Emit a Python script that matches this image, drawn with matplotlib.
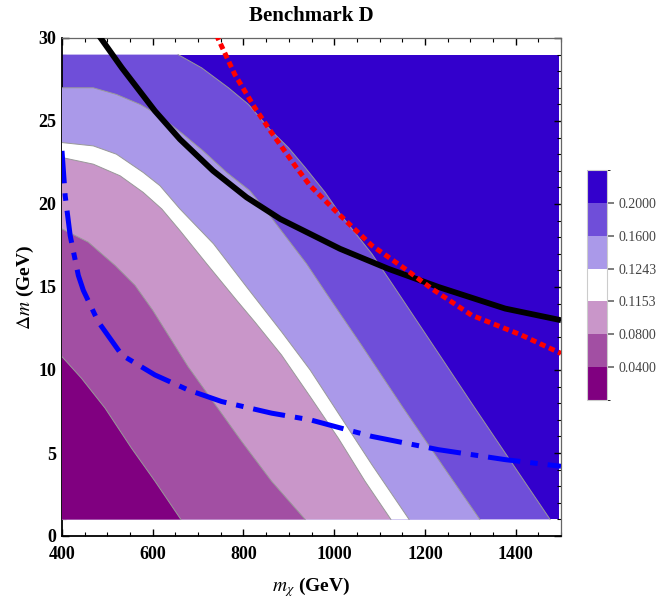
import matplotlib
matplotlib.use("Agg")
import matplotlib.pyplot as plt  # type: ignore
from matplotlib.colors import ListedColormap, BoundaryNorm  # type: ignore
from matplotlib.colorbar import ColorbarBase  # type: ignore
from matplotlib.ticker import MultipleLocator  # type: ignore

plt.rcParams["font.family"] = ["Liberation Serif", "DejaVu Serif"]
plt.rcParams["mathtext.fontset"] = "stix"

# Extent of the scanned region (m_chi in GeV, delta m in GeV)
M_MIN, M_MAX = 400, 1495
DM_MIN, DM_MAX = 1, 29

# Band colours, lowest value first
BAND_COLORS = ["#800080", "#A24FA3", "#C996C9", "#FFFFFF", "#AA99E9", "#6F4ED9", "#3300CC"]
LEVEL_LABELS = ["0.0400", "0.0800", "0.1153", "0.1243", "0.1600", "0.2000"]

# Contour boundaries (start at left/top edge, end at bottom edge)
b004_m = [400, 443, 495, 553, 605, 662]
b004_dm = [10.8, 9.5, 7.7, 5.3, 3.3, 1.0]

b008_m = [400, 458, 517, 561, 600, 678, 796, 862, 936]
b008_dm = [18.5, 17.7, 16.3, 15.1, 13.6, 10.2, 5.7, 3.3, 1.0]

b0115_m = [400, 469, 528, 579, 620, 660, 719, 785, 825, 884, 947, 1009, 1068, 1125]
b0115_dm = [22.8, 22.4, 21.7, 20.7, 19.7, 18.4, 16.4, 14.2, 12.9, 10.9, 8.4, 5.9, 3.3, 1.0]

b0124_m = [400, 469, 520, 579, 616, 660, 734, 807, 884, 947, 1009, 1083, 1165]
b0124_dm = [23.7, 23.5, 23.0, 21.9, 21.1, 19.7, 17.6, 15.0, 12.3, 10.0, 7.4, 4.3, 1.0]

b016_m = [400, 469, 520, 572, 616, 667, 711, 763, 814, 844, 939, 983, 1060, 1150, 1240, 1321]
b016_dm = [27.0, 27.0, 26.6, 26.0, 25.3, 24.2, 23.2, 21.9, 20.8, 19.8, 16.4, 14.6, 11.5, 7.8,
           4.2, 1.0]

b02_m = [656, 708, 767, 811, 858, 899, 936, 980, 1013, 1083, 1130, 1230, 1303, 1377, 1476]
b02_dm = [29.0, 28.2, 27.0, 26.0, 24.5, 23.4, 22.2, 20.7, 19.4, 17.0, 15.1, 11.0, 8.0, 5.0, 1.0]

# Overlaid curves
black_m = [480, 532, 605, 660, 733, 807, 881, 947, 1013, 1119, 1230, 1377, 1500]
black_dm = [30.2, 28.2, 25.6, 23.9, 22.0, 20.4, 19.1, 18.2, 17.3, 16.1, 15.0, 13.7, 13.0]

red_m = [740, 781, 825, 862, 914, 947, 1006, 1083, 1156, 1215, 1303, 1413, 1500]
red_dm = [30.2, 27.8, 25.8, 24.3, 22.3, 21.1, 19.5, 17.5, 16.1, 14.9, 13.3, 12.1, 11.0]

blue_m = [400, 407, 418, 436, 447, 480, 532, 605, 678, 752, 862, 947, 1083, 1230, 1377, 1500]
blue_dm = [23.2, 20.5, 18.1, 15.7, 14.8, 12.9, 10.9, 9.7, 8.8, 8.1, 7.4, 7.0, 6.0, 5.2, 4.6, 4.2]


def region(ms, dms):
    """Polygon covering everything below/left of a boundary curve."""
    xs = [M_MIN]
    ys = [DM_MIN]
    if ms[0] > M_MIN:
        xs.append(M_MIN)
        ys.append(DM_MAX)
    return xs + list(ms), ys + list(dms)


fig = plt.figure(figsize=(6.57, 5.98), dpi=100)
ax = fig.add_axes([62 / 657, 1 - 536 / 598, 499 / 657, 498 / 598])

# top band: whole scanned rectangle
ax.fill([M_MIN, M_MAX, M_MAX, M_MIN], [DM_MIN, DM_MIN, DM_MAX, DM_MAX],
        color=BAND_COLORS[6], lw=0, zorder=1)

# layered from the highest contour down
bounds = [(b02_m, b02_dm), (b016_m, b016_dm), (b0124_m, b0124_dm),
          (b0115_m, b0115_dm), (b008_m, b008_dm), (b004_m, b004_dm)]
for i, (ms, dms) in enumerate(bounds):
    xs, ys = region(ms, dms)
    ax.fill(xs, ys, color=BAND_COLORS[5 - i], lw=0, zorder=2 + i)
for ms, dms in bounds:
    ax.plot(ms, dms, color="#999999", lw=0.7, zorder=9)

ax.plot(black_m, black_dm, color="black", lw=4.2, zorder=10, solid_capstyle="butt")
ax.plot(red_m, red_dm, color="red", lw=3.6, zorder=11, dashes=(1.2, 0.8),
        dash_capstyle="butt")
ax.plot(blue_m, blue_dm, color="#0000FF", lw=3.6, zorder=12, dashes=(6.5, 2.0, 1.5, 2.0),
        dash_capstyle="butt")

ax.set_xlim(400, 1500)
ax.set_ylim(0, 30)
ax.xaxis.set_major_locator(MultipleLocator(200))
ax.xaxis.set_minor_locator(MultipleLocator(50))
ax.yaxis.set_major_locator(MultipleLocator(5))
ax.yaxis.set_minor_locator(MultipleLocator(1))
ax.tick_params(which="both", direction="in", top=True, right=True)
ax.tick_params(which="major", length=5, width=1.0, labelsize=13)
ax.tick_params(which="minor", length=3, width=0.8)
ax.tick_params(axis="x", pad=7)
ax.tick_params(axis="y", pad=4)
for lbl in ax.get_xticklabels() + ax.get_yticklabels():
    lbl.set_fontweight("bold")
for side in ["left", "bottom"]:
    ax.spines[side].set_linewidth(1.3)
for side in ["top", "right"]:
    ax.spines[side].set_color("#666666")
    ax.spines[side].set_linewidth(0.9)

ax.set_xlabel(r"$m_\chi$ (GeV)", fontsize=14, fontweight="bold", labelpad=9)
ax.set_ylabel(r"$\Delta m$ (GeV)", fontsize=14, fontweight="bold", labelpad=2)
ax.set_title("Benchmark D", fontsize=15, fontweight="bold", pad=12)

# colour legend bar
cax = fig.add_axes([587 / 657, 1 - 400 / 598, 20 / 657, 230 / 598])
cb = ColorbarBase(cax, cmap=ListedColormap(BAND_COLORS),
                  norm=BoundaryNorm(list(range(len(BAND_COLORS) + 1)), len(BAND_COLORS)),
                  ticks=list(range(1, len(BAND_COLORS))))
cb.set_ticklabels(LEVEL_LABELS)
cb.outline.set_edgecolor("#cccccc")
cb.outline.set_linewidth(0.8)
cax.tick_params(length=5, width=1.2, color="#666666", labelcolor="#444444",
                labelsize=10, pad=3)

fig.savefig("out.png", dpi=100)
